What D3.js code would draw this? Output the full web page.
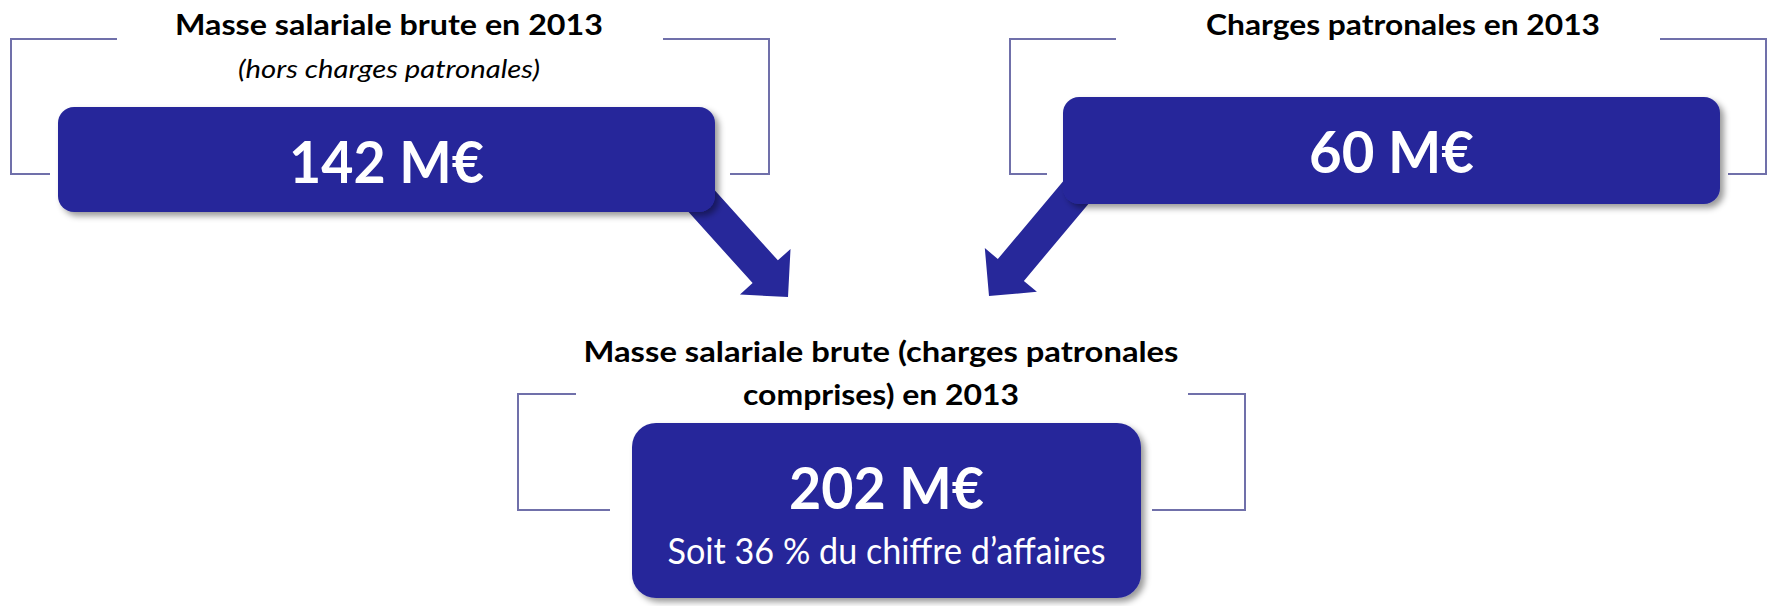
<!DOCTYPE html>
<html>
<head>
<meta charset="utf-8">
<script src="https://cdn.jsdelivr.net/npm/d3@7"></script>
<style>
  html, body { margin: 0; padding: 0; background: #fff; }
  svg { display: block; }
</style>
</head>
<body>
<div id="chart-container"></div>
<script>
// chart content
const titles = [
  ['Masse salariale brute en 2013'],
  ['Charges patronales en 2013'],
  ['Masse salariale brute (charges patronales', 'comprises) en 2013'],
]
const subtitles = ['(hors charges patronales)', '', '']
const values = [142, 60, 202]
const unit = 'M€'
const notes = ['', '', 'Soit 36 % du chiffre d’affaires']

// layout of the three blocks (pixels)
const layout = [
  {
    bracket: { x0: 11, x1: 769, y0: 39, y1: 174, top: [117, 663], bottom: [50, 730] },
    box: { x: 58, y: 107, w: 657, h: 105, r: 16 },
    titleY: [35], titleW: [428], titleX: 389,
    subY: 78, subW: 302,
    valueY: 183, valueW: 195,
  },
  {
    bracket: { x0: 1010, x1: 1766, y0: 39, y1: 174, top: [1116, 1660], bottom: [1047, 1728] },
    box: { x: 1063, y: 97, w: 657, h: 107, r: 16 },
    titleY: [35], titleW: [394], titleX: 1403,
    valueY: 173, valueW: 165,
  },
  {
    bracket: { x0: 518, x1: 1245, y0: 394, y1: 510, top: [576, 1188], bottom: [610, 1152] },
    box: { x: 632, y: 423, w: 509, h: 175, r: 24 },
    titleY: [362, 405], titleW: [595, 276], titleX: 881,
    valueY: 509, valueW: 195,
    noteY: 564, noteW: 438,
  },
]

// arrows: tip position and pointing angle (degrees)
const arrows = [
  { tip: [788, 297], angle: 48 },
  { tip: [989, 296], angle: 130 },
]

const width = 1778
const height = 606
const boxColor = '#27289a'
const lineColor = '#7070aa'
const font = 'Lato, "Carlito", "Open Sans", sans-serif'

const svg = d3
  .select('#chart-container')
  .append('svg')
  .attr('width', width)
  .attr('height', height)
  .attr('viewBox', `0 0 ${width} ${height}`)

const defs = svg.append('defs')
defs
  .append('filter')
  .attr('id', 'shadow')
  .attr('x', '-10%')
  .attr('y', '-10%')
  .attr('width', '130%')
  .attr('height', '140%')
  .append('feDropShadow')
  .attr('dx', 4)
  .attr('dy', 4)
  .attr('stdDeviation', 3)
  .attr('flood-color', '#000')
  .attr('flood-opacity', 0.4)

const line = d3.line()

// brackets behind the boxes
layout.forEach(l => {
  const b = l.bracket
  const g = svg.append('g').attr('fill', 'none').attr('stroke', lineColor).attr('stroke-width', 2)
  g.append('path').attr('d', line([[b.top[0], b.y0], [b.x0, b.y0], [b.x0, b.y1], [b.bottom[0], b.y1]]))
  g.append('path').attr('d', line([[b.top[1], b.y0], [b.x1, b.y0], [b.x1, b.y1], [b.bottom[1], b.y1]]))
})

// block arrows (drawn before boxes so they come out from under them)
const shaftHalf = 17
const headHalf = 34
const headLen = 34
const shaftLen = 165

arrows.forEach(a => {
  const rad = (a.angle * Math.PI) / 180
  const d = [Math.cos(rad), Math.sin(rad)]
  const n = [-d[1], d[0]]
  const [tx, ty] = a.tip
  const base = [tx - headLen * d[0], ty - headLen * d[1]]
  const start = [tx - shaftLen * d[0], ty - shaftLen * d[1]]
  const pt = (p, k) => [p[0] + k * n[0], p[1] + k * n[1]]
  const pts = [
    pt(start, shaftHalf),
    pt(base, shaftHalf),
    pt(base, headHalf),
    [tx, ty],
    pt(base, -headHalf),
    pt(base, -shaftHalf),
    pt(start, -shaftHalf),
  ]
  svg.append('path').attr('d', line(pts) + 'Z').attr('fill', boxColor)
})

// boxes
const blocks = svg
  .selectAll('g.block')
  .data(layout)
  .join('g')
  .attr('class', 'block')

blocks
  .append('rect')
  .attr('x', d => d.box.x)
  .attr('y', d => d.box.y)
  .attr('width', d => d.box.w)
  .attr('height', d => d.box.h)
  .attr('rx', d => d.box.r)
  .attr('fill', boxColor)
  .attr('filter', 'url(#shadow)')

// titles
blocks.each(function (l, i) {
  const g = d3.select(this)
  titles[i].forEach((t, j) => {
    g.append('text')
      .attr('x', l.titleX)
      .attr('y', l.titleY[j])
      .attr('text-anchor', 'middle')
      .attr('font-family', font)
      .attr('font-weight', 'bold')
      .attr('font-size', 29)
      .attr('fill', '#000')
      .attr('textLength', l.titleW[j])
      .attr('lengthAdjust', 'spacingAndGlyphs')
      .text(t)
  })

  if (subtitles[i]) {
    g.append('text')
      .attr('x', l.titleX)
      .attr('y', l.subY)
      .attr('text-anchor', 'middle')
      .attr('font-family', font)
      .attr('font-style', 'italic')
      .attr('font-size', 26)
      .attr('fill', '#000')
      .attr('textLength', l.subW)
      .attr('lengthAdjust', 'spacingAndGlyphs')
      .text(subtitles[i])
  }

  const cx = l.box.x + l.box.w / 2
  g.append('text')
    .attr('x', cx)
    .attr('y', l.valueY)
    .attr('text-anchor', 'middle')
    .attr('font-family', font)
    .attr('font-weight', 'bold')
    .attr('font-size', 58)
    .attr('fill', '#fff')
    .attr('textLength', l.valueW)
    .attr('lengthAdjust', 'spacingAndGlyphs')
    .text(`${values[i]} ${unit}`)

  if (notes[i]) {
    g.append('text')
      .attr('x', cx)
      .attr('y', l.noteY)
      .attr('text-anchor', 'middle')
      .attr('font-family', font)
      .attr('font-size', 36)
      .attr('fill', '#fff')
      .attr('textLength', l.noteW)
      .attr('lengthAdjust', 'spacingAndGlyphs')
      .text(notes[i])
  }
})
</script>
</body>
</html>
